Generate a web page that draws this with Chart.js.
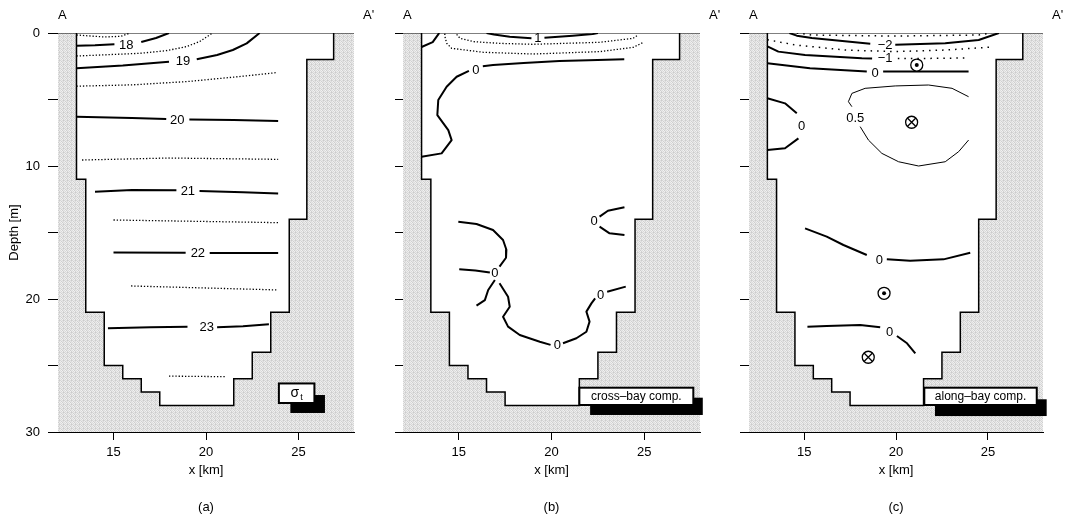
<!DOCTYPE html>
<html>
<head>
<meta charset="utf-8">
<script src="https://cdn.jsdelivr.net/npm/chart.js@4.4.0/dist/chart.umd.min.js"></script>
<style>
html,body{margin:0;padding:0;background:#fff;}
#wrap{position:relative;width:1066px;height:520px;overflow:hidden;}
canvas{position:absolute;top:0;}
</style>
</head>
<body>
<div id="wrap">
<canvas id="ca" width="378" height="520" style="left:0px"></canvas>
<canvas id="cb" width="350" height="520" style="left:378px"></canvas>
<canvas id="cc" width="338" height="520" style="left:728px"></canvas>
</div>
<script>
// ---------- axes ----------
const xTicks = [15, 20, 25];
const depthTicks = [0, 5, 10, 15, 20, 25, 30];
const depthLabels = [0, 10, 20, 30];
const xRange = [12, 28];
const depthRange = [0, 30];

// ---------- bathymetry (x km, depth m) ----------
const bathymetry = [[13.0,0],[13.0,11],[13.5,11],[13.5,21],[14.5,21],[14.5,25],[15.5,25],[15.5,26],[16.5,26],[16.5,27],[17.5,27],[17.5,28],[21.5,28],[21.5,26],[22.5,26],[22.5,24],[23.5,24],[23.5,21],[24.5,21],[24.5,14],[25.45,14],[25.45,2],[26.9,2],[26.9,0]];
const topEdge = [[12,0],[28,0]];
const domainBottom = [[12,30],[28,30]];

// ---------- (a) sigma-t ----------
const sigma18 = [[13.0,0.95],[14.0,0.92],[15.05,0.85],null,[16.5,0.68],[17.3,0.38],[18.0,0]];
const sigma19 = [[13.0,2.65],[15.5,2.45],[18.0,2.17],null,[19.5,1.98],[20.6,1.65],[21.45,1.28],[22.2,0.78],[22.9,0]];
const sigma20 = [[13.0,6.29],[16.0,6.4],[17.85,6.47],null,[19.1,6.5],[21.5,6.55],[23.9,6.62]];
const sigma21 = [[14.0,11.93],[16.0,11.8],[18.4,11.82],null,[19.65,11.88],[22.0,11.98],[23.9,12.06]];
const sigma22 = [[15.0,16.5],[18.9,16.52],null,[20.2,16.55],[23.9,16.55]];
const sigma23 = [[14.7,22.2],[17.0,22.12],[19.0,22.08],null,[20.6,22.12],[22.0,22.05],[23.4,21.9]];
const sigma175 = [[13.0,0.15],[14.5,0.3],[15.4,0.25],[15.9,0]];
const sigma185 = [[13.0,1.73],[16.4,1.53],[17.85,1.33],[18.93,1.03],[19.65,0.65],[20.35,0]];
const sigma195 = [[13.0,4.0],[16.0,3.9],[19.0,3.65],[22.0,3.25],[23.8,2.98]];
const sigma205 = [[13.3,9.55],[18.0,9.4],[23.9,9.5]];
const sigma215 = [[15.0,14.06],[23.9,14.26]];
const sigma225 = [[15.95,19.02],[23.9,19.32]];
const sigma235 = [[18.0,25.8],[21.1,25.84]];
const sigmaLabels = [[15.69,0.9,'18'],[18.75,2.14,'19'],[18.44,6.59,'20'],[19.02,11.91,'21'],[19.56,16.57,'22'],[20.04,22.13,'23']];

// ---------- (b) cross-bay component ----------
const crossTopLeft = [[13.0,1.05],[13.6,0.68],[13.9,0.1],[13.95,0]];
const crossOne = [[16.5,0],[16.9,0.12],[17.75,0.28],[18.92,0.4],null,[19.62,0.35],[21.14,0.2],[22.22,0.08],[22.5,0]];
const crossDotInner = [[14.89,0.1],[15.07,0.4],[15.79,0.65],[17.2,0.78],[18.99,0.85],[22.6,0.7],[24.4,0.4],[24.67,0.13]];
const crossDotOuter = [[14.25,0.05],[14.26,0.27],[14.35,0.77],[14.62,1.15],[16.33,1.45],[19.0,1.58],[22.6,1.4],[24.4,1.08],[24.95,0.7]];
const crossZeroTop = [[23.92,1.98],[22.0,2.04],[20.43,2.11],[18.5,2.25],[16.85,2.41],[16.3,2.5],null,[15.55,2.85],[14.89,3.29],[14.35,4.04],[13.9,5.04],[13.85,6.17],[14.44,7.3],[14.62,8.05],[14.08,9.05],[13.0,9.3]];
const crossZeroRight = [[23.93,13.1],[23.04,13.36],[22.59,13.81],null,[22.59,14.56],[23.13,15.06],[23.93,15.19]];
const crossZeroUpper = [[14.98,14.19],[15.96,14.36],[16.85,14.81],[17.39,15.56],[17.57,16.3],[17.55,16.9],[17.2,17.57]];
const crossZeroLeft = [[15.03,17.77],[15.9,17.85],[16.68,18.0]];
const crossZeroLowLeft = [[16.95,18.57],[16.59,19.32],[16.41,20.08],[15.96,20.5]];
const crossZeroBottom = [[17.2,18.82],[17.66,19.83],[17.75,20.58],[17.39,21.33],[17.66,22.08],[18.29,22.71],[19.37,23.21],[19.95,23.45],null,[20.62,23.33],[21.34,22.95],[21.88,22.46],[22.05,21.7],[21.88,20.95],[22.15,20.33],[22.35,19.95],null,[23.0,19.45],[24.0,19.07]];
const crossLabels = [[19.27,0.4,'1'],[15.92,2.83,'0'],[22.3,14.19,'0'],[16.95,18.07,'0'],[20.31,23.46,'0'],[22.64,19.7,'0']];

// ---------- (c) along-bay component ----------
const alongDotTop = [[14.6,0],[15.42,0.15],[19.96,0.23],[24.5,0.15],[25.2,0]];
const alongNeg2 = [[14.2,0],[14.6,0.2],[15.42,0.38],[18.6,0.8],null,[19.96,0.88],[22.68,0.77],[24.5,0.53],[25.6,0]];
const alongDot15 = [[13.0,0.5],[14.5,0.9],[17.23,1.28],[19.96,1.4],[22.68,1.28],[25.3,1.05]];
const alongNeg1 = [[13.0,1.0],[13.6,1.4],[15.05,1.65],[18.14,1.9],[18.7,1.92]];
const alongDot05 = [[20.1,1.92],[21.0,1.92],[22.5,1.9],[23.8,1.88]];
const alongZero = [[13.0,2.28],[15.32,2.65],[18.41,2.9],null,[19.3,2.9],[21.5,2.9],[23.95,2.9]];
const alongHalf = [[23.95,4.79],[23.05,4.16],[21.77,3.91],[19.96,3.98],[18.32,4.16],[17.6,4.54],[17.41,5.16],[17.6,5.54],null,[18.05,7.04],[18.5,8.05],[19.23,9.05],[20.14,9.68],[21.23,10.0],[22.68,9.68],[23.41,8.92],[23.95,8.05]];
const alongLeftZero = [[13.0,4.91],[13.96,5.29],[14.6,6.04],null,[14.69,7.92],[13.96,8.67],[13.0,8.8]];
const alongLowZeroA = [[15.05,14.69],[16.23,15.31],[17.14,15.94],[17.87,16.37],[18.41,16.69],null,[19.5,17.02],[20.77,17.12],[22.59,17.02],[24.04,16.52]];
const alongLowZeroB = [[15.18,22.08],[16.23,22.03],[18.05,21.95],[19.14,22.13],null,[20.05,22.78],[20.6,23.33],[21.05,24.08]];
const alongLabels = [[19.41,0.95,'\u22122'],[19.41,1.9,'\u22121'],[18.87,3.03,'0'],[17.78,6.41,'0.5'],[14.87,7.04,'0'],[19.1,17.12,'0'],[19.65,22.53,'0']];
const outOfPage = [[21.13,2.41],[19.35,19.57]];
const intoPage = [[20.85,6.71],[18.49,24.38]];

// ---------- legend boxes [x1,x2,depth1,depth2] ----------
const boxA = {rect:[23.94,25.86,26.35,27.82], shadow:[24.56,26.43,27.22,28.57], text:'\u03c3', sub:'t'};
const boxB = {rect:[21.5,27.64,26.67,27.97], shadow:[22.08,28.15,27.42,28.72], text:'cross\u2013bay comp.'};
const boxC = {rect:[21.54,27.66,26.67,27.97], shadow:[22.12,28.2,27.54,28.8], text:'along\u2013bay comp.'};

// ================= rendering =================
const FONT = '"Liberation Sans", Arial, Helvetica, sans-serif';

function toXY(points){
  const out = []; let lastX = null;
  for (const p of points){
    if (p){ out.push({x:p[0], y:p[1]}); lastX = p[0]; }
    else out.push({x:lastX, y:null});
  }
  return out;
}
function solid(points, w){
  return {data: toXY(points), borderColor:'#000', borderWidth: w || 2, pointRadius:0, pointHoverRadius:0,
          fill:false, tension:0, spanGaps:false, order:10, borderCapStyle:'butt', borderJoinStyle:'round'};
}
function dotted(points, dash, w){
  const d = solid(points, w || 1.3); d.borderDash = dash || [1.3,1.9]; return d;
}
function grayPattern(){
  const c = document.createElement('canvas'); c.width = 4; c.height = 4;
  const g = c.getContext('2d');
  const lv = [214,234,222,204, 238,208,230,218, 220,242,206,232, 236,216,240,210];
  for (let i = 0; i < 16; i++){ g.fillStyle = 'rgb('+lv[i]+','+lv[i]+','+lv[i]+')'; g.fillRect(i%4, Math.floor(i/4), 1, 1); }
  return g.createPattern(c, 'repeat');
}
function baseDatasets(){
  return [
    {data: toXY(topEdge), borderColor:'#000', borderWidth:1, pointRadius:0, fill:false, order:50},
    {data: toXY(bathymetry), borderColor:'#000', borderWidth:1.5, pointRadius:0, tension:0,
     fill:{value:0}, backgroundColor:'#ffffff', order:99, borderJoinStyle:'miter'},
    {data: toXY(domainBottom), borderColor:'rgba(0,0,0,0)', borderWidth:0, pointRadius:0,
     fill:{value:0}, backgroundColor: grayPattern(), order:100}
  ];
}
function annotPlugin(labels, box){
  return {
    id: 'annot',
    afterDatasetsDraw(chart){
      const {ctx, scales} = chart;
      const X = v => scales.x.getPixelForValue(v), Y = v => scales.y.getPixelForValue(v);
      ctx.save();
      ctx.fillStyle = '#000';
      ctx.font = '13px ' + FONT;
      ctx.textAlign = 'center'; ctx.textBaseline = 'middle';
      for (const l of labels) ctx.fillText(l[2], X(l[0]), Y(l[1]));
      const s = box.shadow, r = box.rect;
      ctx.fillStyle = '#000';
      ctx.fillRect(X(s[0]), Y(s[2]), X(s[1]) - X(s[0]), Y(s[3]) - Y(s[2]));
      ctx.fillStyle = '#fff';
      ctx.fillRect(X(r[0]), Y(r[2]), X(r[1]) - X(r[0]), Y(r[3]) - Y(r[2]));
      ctx.strokeStyle = '#000'; ctx.lineWidth = 2;
      ctx.strokeRect(X(r[0]), Y(r[2]), X(r[1]) - X(r[0]), Y(r[3]) - Y(r[2]));
      const cx = (X(r[0]) + X(r[1])) / 2, cy = (Y(r[2]) + Y(r[3])) / 2;
      ctx.fillStyle = '#000';
      if (box.sub){
        ctx.font = '14px ' + FONT; const w1 = ctx.measureText(box.text).width;
        ctx.font = '9px ' + FONT; const w2 = ctx.measureText(box.sub).width;
        const x0 = cx - (w1 + w2 + 1) / 2;
        ctx.textAlign = 'left'; ctx.textBaseline = 'alphabetic';
        ctx.font = '14px ' + FONT; ctx.fillText(box.text, x0, cy + 4);
        ctx.font = '9px ' + FONT; ctx.fillText(box.sub, x0 + w1 + 1, cy + 7);
      } else {
        ctx.font = '12px ' + FONT; ctx.textAlign = 'center'; ctx.textBaseline = 'middle';
        ctx.fillText(box.text, cx, cy + 0.5);
      }
      ctx.restore();
    },
    afterDraw(chart){
      const {ctx, chartArea} = chart;
      ctx.save();
      ctx.fillStyle = '#000'; ctx.font = '13px ' + FONT;
      ctx.textAlign = 'left'; ctx.textBaseline = 'middle';
      ctx.fillText('A', chartArea.left, 15);
      ctx.fillText("A'", chartArea.right + 9, 15);
      ctx.restore();
    }
  };
}
function makeChart(id, datasets, opts){
  const yTitle = opts.yTitle;
  return new Chart(document.getElementById(id), {
    type: 'line',
    data: {datasets: datasets},
    plugins: [annotPlugin(opts.labels, opts.box)],
    options: {
      responsive: false, animation: false, events: [],
      layout: {padding: {left: 0, right: opts.padRight, top: 33, bottom: 0}},
      plugins: {legend: {display: false}, tooltip: {enabled: false}},
      scales: {
        x: {
          type: 'linear', position: 'bottom', min: xRange[0], max: xRange[1],
          afterBuildTicks: s => { s.ticks = xTicks.map(v => ({value: v})); },
          afterFit: s => { s.height = 88; },
          grid: {drawOnChartArea: false, drawTicks: true, tickLength: 8, tickColor: '#000', tickWidth: 1},
          border: {display: true, color: '#000', width: 1},
          ticks: {color: '#000', font: {size: 13, family: FONT}, padding: 5, maxRotation: 0, autoSkip: false},
          title: {display: true, text: ['x [km]', '', opts.panel], color: '#000',
                  font: {size: 13, family: FONT, lineHeight: 1.43}, padding: {top: 0, bottom: 3.5}}
        },
        y: {
          type: 'linear', position: 'left', reverse: true, min: depthRange[0], max: depthRange[1],
          afterBuildTicks: s => { s.ticks = depthTicks.map(v => ({value: v})); },
          afterFit: s => { s.width = opts.yWidth; },
          grid: {drawOnChartArea: false, drawTicks: true, tickLength: opts.tickLen, tickColor: '#000', tickWidth: 1},
          border: {display: false},
          ticks: {color: '#000', font: {size: 13, family: FONT}, padding: 8, autoSkip: false,
                  callback: v => (opts.showLabels && depthLabels.includes(v)) ? String(v) : ''},
          title: {display: !!yTitle, text: yTitle || '', color: '#000', font: {size: 13, family: FONT}, padding: {top: 7, bottom: 0}}
        }
      }
    }
  });
}

// panel (a)
makeChart('ca', [
  solid(sigma18), solid(sigma19), solid(sigma20), solid(sigma21), solid(sigma22), solid(sigma23),
  dotted(sigma175), dotted(sigma185), dotted(sigma195), dotted(sigma205), dotted(sigma215), dotted(sigma225), dotted(sigma235),
  ...baseDatasets()
], {labels: sigmaLabels, box: boxA, panel: '(a)', yWidth: 58, tickLen: 10, padRight: 24, showLabels: true, yTitle: 'Depth [m]'});

// panel (b)
makeChart('cb', [
  solid(crossTopLeft), solid(crossOne), solid(crossZeroTop), solid(crossZeroRight),
  solid(crossZeroUpper), solid(crossZeroLeft), solid(crossZeroLowLeft), solid(crossZeroBottom),
  dotted(crossDotInner), dotted(crossDotOuter),
  ...baseDatasets()
], {labels: crossLabels, box: boxB, panel: '(b)', yWidth: 25, tickLen: 8, padRight: 28, showLabels: false});

// panel (c)
const symbolRings = {data: toXY(outOfPage.concat(intoPage)), showLine: false, pointStyle: 'circle', pointRadius: 6,
  pointBackgroundColor: '#fff', pointBorderColor: '#000', pointBorderWidth: 1.3, order: 2};
const symbolCross = {data: toXY(intoPage), showLine: false, pointStyle: 'crossRot', pointRadius: 6,
  pointBorderColor: '#000', pointBorderWidth: 1.3, order: 1};
const symbolDot = {data: toXY(outOfPage), showLine: false, pointStyle: 'circle', pointRadius: 2,
  pointBackgroundColor: '#000', pointBorderColor: '#000', pointBorderWidth: 0, order: 1};
makeChart('cc', [
  symbolCross, symbolDot, symbolRings,
  solid(alongNeg2), solid(alongNeg1), solid(alongZero), solid(alongHalf, 1), solid(alongLeftZero),
  solid(alongLowZeroA), solid(alongLowZeroB),
  dotted(alongDotTop, [1.5,5], 1.5), dotted(alongDot15, [1.5,5], 1.5), dotted(alongDot05, [1.5,5], 1.5),
  ...baseDatasets()
], {labels: alongLabels, box: boxC, panel: '(c)', yWidth: 21, tickLen: 9, padRight: 23, showLabels: false});
</script>
</body>
</html>
